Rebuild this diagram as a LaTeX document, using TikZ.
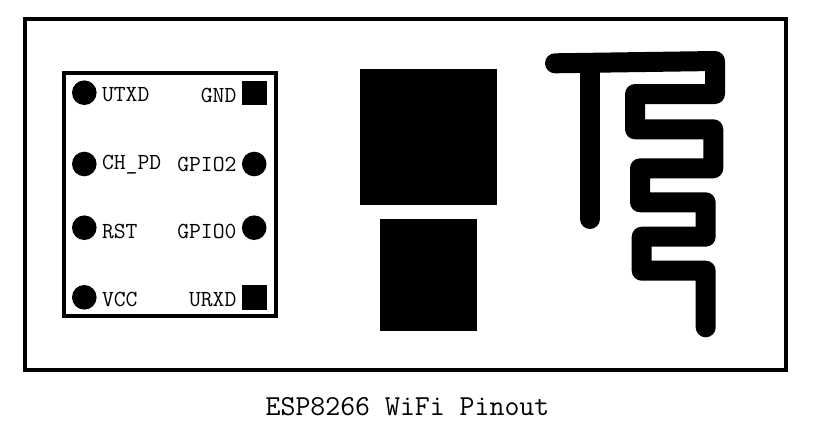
\documentclass[tikz,border=0pt]{standalone}
\usetikzlibrary{positioning}
\tikzset{pinround/.style={circle,fill=black,minimum size=24.6pt,inner sep=0pt}}
\tikzset{pinsquare/.style={rectangle,fill=black,minimum size=24.8pt,inner sep=0pt}}
\tikzset{pinlabel/.style={inner sep=0pt,font=\ttfamily\fontsize{23}{24}\selectfont}}
\tikzset{frame/.style={draw=black,line width=4pt}}
\tikzset{chip/.style={rectangle,fill=black,inner sep=0pt}}
\tikzset{trace/.style={draw=black,line width=20pt,line cap=round,line join=round}}
\begin{document}
\begin{tikzpicture}[x=1pt,y=-1pt]
        \useasboundingbox (0,0) rectangle (833,421);

        \draw[frame] (25,19) rectangle (786,370);
        \draw[frame] (64,73) rectangle (276,316);

        % left pins
        \node[pinround] (utxd) at (84.3,92.7) {};
        \node[pinround] (chpd) at (84.3,164) {};
        \node[pinround] (rst) at (84.3,227.7) {};
        \node[pinround] (vcc) at (84.3,297.3) {};
        \node[pinlabel,right=5pt of utxd,yshift=-2pt] (utxdl) {UTXD};
        \node[pinlabel,right=5pt of chpd,yshift=-1pt] (chpdl) {CH\_PD};
        \node[pinlabel,right=5pt of rst,yshift=-3.5pt] (rstl) {RST};
        \node[pinlabel,right=5pt of vcc,yshift=-2.5pt] (vccl) {VCC};

        % right pins
        \node[pinsquare] (gnd) at (254.2,93) {};
        \node[pinround] (gpiotwo) at (254.2,164) {};
        \node[pinround] (gpiozero) at (254.2,227.7) {};
        \node[pinsquare] (urxd) at (254.2,297.5) {};
        \node[pinlabel,left=5pt of gnd,yshift=-2pt] (gndl) {GND};
        \node[pinlabel,left=5pt of gpiotwo] (gpiotwol) {GPIO2};
        \node[pinlabel,left=5pt of gpiozero,yshift=-3.5pt] (gpiozerol) {GPIO0};
        \node[pinlabel,left=5pt of urxd,yshift=-2.5pt] (urxdl) {URXD};

        \node[chip,minimum width=137pt,minimum height=136pt] (shield) at (428.5,137) {};
        \node[chip,minimum width=97pt,minimum height=112pt] (flash) at (428.5,275) {};

        % antenna
        \draw[trace] (555,63.3) -- (715,61) -- (715,94) -- (635,94)
            -- (635,129.3) -- (713.3,129.3) -- (713.3,168.3) -- (640,168.3)
            -- (640,202.3) -- (705.7,202.3) -- (705.7,236.7) -- (641.7,236.7)
            -- (641.7,270.7) -- (705.7,270.7) -- (705.7,327.3);
        \draw[trace] (590,63) -- (590,219);

        \node[inner sep=0pt,font=\ttfamily\fontsize{29}{30}\selectfont] (caption) at (407.5,407) {ESP8266 WiFi Pinout};
    \end{tikzpicture}
\end{document}
